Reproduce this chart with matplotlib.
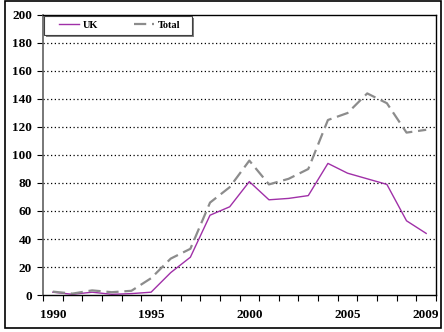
import matplotlib
matplotlib.use("Agg")
import matplotlib.pyplot as plt
from matplotlib.patches import Rectangle

years = list(range(1990, 2010))
uk = [2, 0.5, 2, 0.5, 1, 2, 16, 27, 57, 63, 81, 68, 69, 71, 94, 87, 83, 79, 53, 44]
total = [2.4, 1, 3.3, 2, 3, 12, 26, 33, 66, 77, 96, 79, 83, 90, 125, 130, 144, 137, 116, 118]
shown_labels = {1990: "1990", 1995: "1995", 2000: "2000", 2005: "2005", 2009: "2009"}

W, H = 444, 332
fig = plt.figure(figsize=(W / 100, H / 100), dpi=100)
fig.patch.set_facecolor("white")
fig.patches.append(Rectangle((5 / W, (H - 328) / H), 436 / W, 327 / H,
                             transform=fig.transFigure, fill=False,
                             edgecolor="black", linewidth=1.2))

AX_L, AX_R, AX_T, AX_B = 43, 436, 15, 295
ax = fig.add_axes([AX_L / W, (H - AX_B) / H, (AX_R - AX_L) / W, (AX_B - AX_T) / H])
fnt = dict(family="Liberation Serif", weight="bold", size=9.5)

xs = [i + 0.5 for i in range(len(years))]
ax.plot(xs, uk, color="#A030A8", linewidth=1.0, label="UK")
ax.plot(xs, total, color="#8C8C8C", linewidth=1.6, dashes=(5.5, 2.6), label="Total")

ax.set_xlim(0, len(years))
ax.set_ylim(0, 200)
ax.set_yticks(range(0, 201, 20))
ax.set_yticklabels([str(v) for v in range(0, 201, 20)], **fnt)
ax.set_xticks(range(0, len(years) + 1))
ax.set_xticklabels([""] * (len(years) + 1))
for i, y in enumerate(years):
    if y in shown_labels:
        ax.text(i + 0.5, -0.072, shown_labels[y], transform=ax.get_xaxis_transform(),
                ha="center", va="center", **fnt)

ax.tick_params(axis="both", direction="out", length=4, width=0.8, color="black", pad=4)
for v in range(20, 200, 20):
    ax.axhline(v, color="black", linewidth=0.9, linestyle=(0, (1, 2)), zorder=0)

for s in ["top", "right"]:
    ax.spines[s].set_color("black")
    ax.spines[s].set_linewidth(1.0)
ax.spines["left"].set_color("#606060")
ax.spines["left"].set_linewidth(1.2)
ax.spines["bottom"].set_color("black")
ax.spines["bottom"].set_linewidth(1.0)

# legend frame (with grey shadow) in axes-pixel terms
aw, ah = AX_R - AX_L, AX_B - AX_T
def axc(px, py):
    return ((px - AX_L) / aw, (AX_B - py) / ah)
fx0, fy0 = axc(44, 35.3)
fx1, fy1 = axc(192, 15.7)
ax.add_patch(Rectangle((fx0 + 2 / aw, fy0 - 2 / ah), fx1 - fx0, fy1 - fy0,
                       transform=ax.transAxes, facecolor="#808080", edgecolor="none",
                       zorder=4, clip_on=False))
ax.add_patch(Rectangle((fx0, fy0), fx1 - fx0, fy1 - fy0, transform=ax.transAxes,
                       facecolor="white", edgecolor="#404040", linewidth=0.8,
                       zorder=5, clip_on=False))
lx, ly = axc(59, 25.5)
leg = ax.legend(loc="center left", bbox_to_anchor=(lx, ly), ncol=2,
                prop=dict(family="Liberation Serif", weight="bold", size=7.5),
                frameon=False, borderaxespad=0, borderpad=0, handlelength=1.9,
                columnspacing=3.4, handletextpad=0.4)
leg.set_zorder(6)

fig.savefig("out.png", dpi=100)
